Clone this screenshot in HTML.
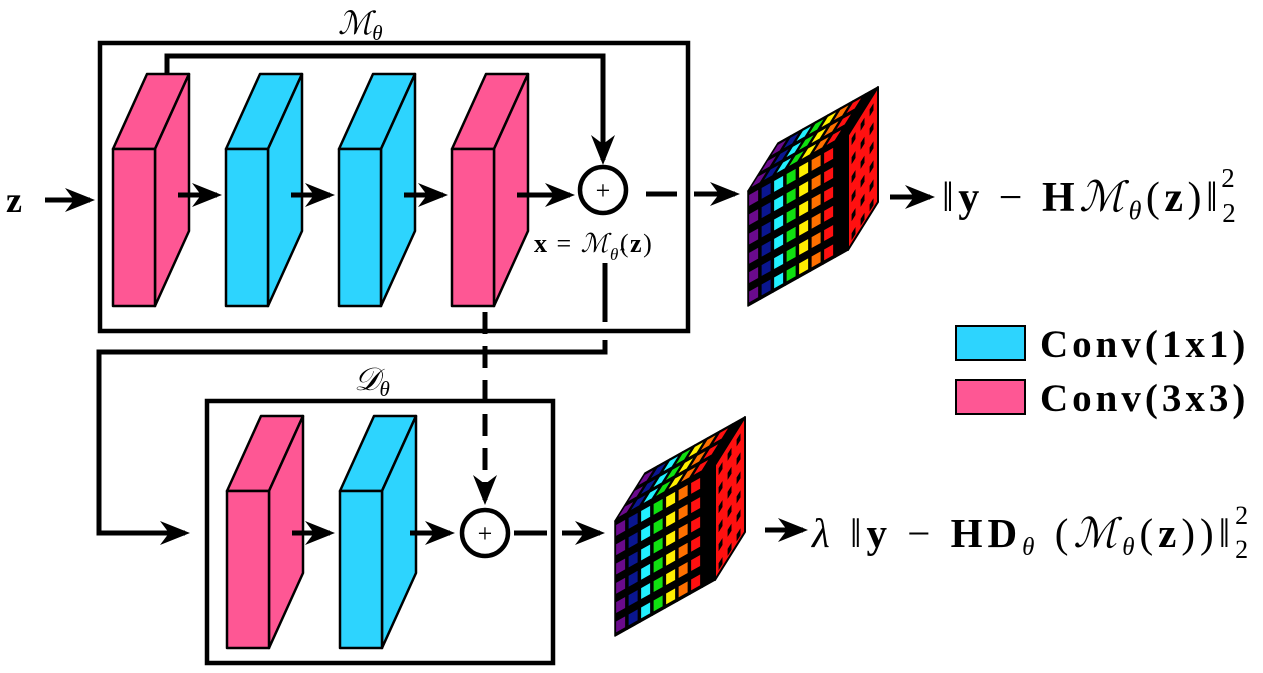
<!DOCTYPE html>
<html><head><meta charset="utf-8"><style>
html,body{margin:0;padding:0;background:#fff;width:1263px;height:673px;overflow:hidden}
svg{display:block}
text{font-family:"Liberation Serif","DejaVu Serif",serif;fill:#000}
</style></head><body>
<svg id="fig" width="1263" height="673" viewBox="0 0 1263 673" xmlns="http://www.w3.org/2000/svg">
<defs>
<marker id="ah" markerWidth="6" markerHeight="6" refX="5" refY="3" orient="auto" markerUnits="strokeWidth"><path d="M0,0.6 L6,3 L0,5.4 L1.8,3 Z" fill="#000"/></marker>
</defs>
<g id="boxes">
<rect x="100" y="43" width="588" height="288" fill="none" stroke="#000" stroke-width="4.5"/>
<rect x="207" y="401" width="346" height="262" fill="none" stroke="#000" stroke-width="4.5"/>
</g>
<text x="338" y="34" font-size="32" font-style="italic">ℳ<tspan font-size="21" dy="6">θ</tspan></text>
<text x="354" y="390" font-size="32" font-style="italic">𝒟<tspan font-size="21" dy="6">θ</tspan></text>
<g id="blocks"></g>
<g id="lines" fill="none" stroke="#000" stroke-width="5">
<polyline points="167,74 167,56 603,56 603,160" marker-end="url(#ah)"/>
<line x1="45" y1="200" x2="90" y2="200" marker-end="url(#ah)"/>
<line x1="178" y1="195" x2="217" y2="195" marker-end="url(#ah)"/>
<line x1="291" y1="195" x2="330" y2="195" marker-end="url(#ah)"/>
<line x1="404" y1="195" x2="443" y2="195" marker-end="url(#ah)"/>
<line x1="517" y1="195" x2="570" y2="195" marker-end="url(#ah)"/>
<line x1="646" y1="194" x2="677" y2="194"/>
<line x1="694" y1="194" x2="735" y2="194" marker-end="url(#ah)"/>
<line x1="890" y1="197" x2="930" y2="197" marker-end="url(#ah)"/>
<polyline points="605,263 605,322" />
<polyline points="605,340 605,352 99,352 99,533 185,533" marker-end="url(#ah)"/>
<line x1="485" y1="312" x2="485" y2="500" stroke-dasharray="22,12" marker-end="url(#ah)"/>
<line x1="292" y1="533" x2="330" y2="533" marker-end="url(#ah)"/>
<line x1="410" y1="533" x2="450" y2="533" marker-end="url(#ah)"/>
<line x1="514" y1="533" x2="547" y2="533"/>
<line x1="562" y1="533" x2="600" y2="533" marker-end="url(#ah)"/>
<line x1="765" y1="530" x2="803" y2="530" marker-end="url(#ah)"/>
</g>
<circle cx="603" cy="190" r="23" fill="#fff" stroke="#000" stroke-width="4.5"/>
<text x="603" y="199" font-size="26" text-anchor="middle">+</text>
<circle cx="485" cy="533" r="23" fill="#fff" stroke="#000" stroke-width="4.5"/>
<text x="485" y="542" font-size="26" text-anchor="middle">+</text>
<text x="534" y="252" font-size="26" letter-spacing="1.5"><tspan font-weight="bold">x</tspan> = <tspan font-style="italic">ℳ</tspan><tspan font-size="17" dy="8" font-style="italic">θ̂</tspan><tspan dy="-8">(</tspan><tspan font-weight="bold">z</tspan>)</text>
<text x="6" y="212" font-size="36" font-weight="bold">z</text>
<text x="942" y="211" font-size="42" letter-spacing="4.5">‖<tspan font-weight="bold">y</tspan> − <tspan font-weight="bold">H</tspan><tspan font-style="italic">ℳ</tspan><tspan font-size="26" dy="8" font-style="italic">θ</tspan><tspan dy="-8">(</tspan><tspan font-weight="bold">z</tspan>)‖<tspan font-size="27" dy="11">2</tspan><tspan font-size="27" dx="-19" dy="-35">2</tspan></text>
<text x="812" y="547" font-size="41" letter-spacing="5">
<tspan font-style="italic">λ</tspan> ‖<tspan font-weight="bold">y</tspan> − <tspan font-weight="bold">HD</tspan><tspan font-size="25" dy="8" font-style="italic">θ</tspan><tspan dy="-8"> (</tspan><tspan font-style="italic">ℳ</tspan><tspan font-size="25" dy="8" font-style="italic">θ</tspan><tspan dy="-8">(</tspan><tspan font-weight="bold">z</tspan>))‖<tspan font-size="26" dy="11">2</tspan><tspan font-size="26" dx="-18" dy="-34">2</tspan></text>
<g>
<rect x="956" y="326" width="69" height="34" fill="#2dd4fe" stroke="#000" stroke-width="2"/>
<text x="1040" y="357" font-size="39" font-weight="bold" letter-spacing="4">Conv(1x1)</text>
<rect x="956" y="380" width="69" height="34" fill="#fe5794" stroke="#000" stroke-width="2"/>
<text x="1040" y="411" font-size="39" font-weight="bold" letter-spacing="4">Conv(3x3)</text>
</g>
<g id="cubes"></g>
</svg>
<script>
const PINK="#fe5794", CYAN="#2dd4fe";
const topBlockX=[113,226,339,452];
const topBlockColors=[PINK,CYAN,CYAN,PINK];
const botBlockX=[227,340];
const botBlockColors=[PINK,CYAN];
const slabColors=["#6a0a8c","#0a1690","#22f0ff","#10e010","#ffee00","#ff7000","#ff1010","#ff1010"];
const NS="http://www.w3.org/2000/svg";
const blocks=document.getElementById('blocks');
function poly(parent,pts,fill,sw){const p=document.createElementNS(NS,'polygon');p.setAttribute('points',pts.map(a=>a.join(',')).join(' '));p.setAttribute('fill',fill);p.setAttribute('stroke','#000');p.setAttribute('stroke-width',sw);p.setAttribute('stroke-linejoin','round');parent.appendChild(p);return p;}
function block(x,y,color,name){
  const g=document.createElementNS(NS,'g');
  
  
  const w=42,h=157,dx=34,dy=-75;
  poly(g,[[x,y],[x+dx,y+dy],[x+w+dx,y+dy],[x+w,y]],color,2.5);
  poly(g,[[x+w,y],[x+w+dx,y+dy],[x+w+dx,y+h+dy],[x+w,y+h]],color,2.5);
  poly(g,[[x,y],[x+w,y],[x+w,y+h],[x,y+h]],color,2.5);
  blocks.appendChild(g);
}
topBlockX.forEach((x,i)=>block(x,149,topBlockColors[i],'conv-block-top-'+(i+1)));
botBlockX.forEach((x,i)=>block(x,491,botBlockColors[i],'conv-block-bottom-'+(i+1)));
const cubes=document.getElementById('cubes');
function P(o,a,ka,d,kd,hh){return [o[0]+a[0]*ka+d[0]*kd, o[1]+a[1]*ka+d[1]*kd-hh];}
function cube(x0,y0,name){
  const g=document.createElementNS(NS,'g');
  
  
  const n=slabColors.length, A=[12.5,-7], D=[30,-48], H=115;
  for(let i=n-1;i>=0;i--){
    const O=[x0+A[0]*i, y0+A[1]*i], c=slabColors[i];
    poly(g,[P(O,A,0,D,0,H),P(O,A,1,D,0,H),P(O,A,1,D,1,H),P(O,A,0,D,1,H)],'#000',1.5);
    poly(g,[P(O,A,0,D,0,0),P(O,A,1,D,0,0),P(O,A,1,D,0,H),P(O,A,0,D,0,H)],'#000',1.5);
    if(i===n-1){
      poly(g,[P(O,A,1,D,0,0),P(O,A,1,D,1,0),P(O,A,1,D,1,H),P(O,A,1,D,0,H)],c,2);
      for(let r=0;r<6;r++)for(let k=0;k<3;k++){
        const hy=H-9-r*19, kd=0.12+k*0.3;
        poly(g,[P(O,A,1,D,kd,hy),P(O,A,1,D,kd+0.13,hy),P(O,A,1,D,kd+0.13,hy-7),P(O,A,1,D,kd,hy-7)],'#000',0);
      }
    }
    if(i<n-1){
      for(let r=0;r<6;r++){
        const hy=H-4-r*19.3;
        poly(g,[P(O,A,0.05,D,0,hy),P(O,A,0.85,D,0,hy),P(O,A,0.85,D,0,hy-12),P(O,A,0.05,D,0,hy-12)],c,1);
      }
      for(let t=0;t<3;t++){
        const kd=0.05+t*0.33;
        poly(g,[P(O,A,0.05,D,kd,H),P(O,A,0.85,D,kd,H),P(O,A,0.85,D,kd+0.25,H),P(O,A,0.05,D,kd+0.25,H)],c,1);
      }
    }
  }
  cubes.appendChild(g);
}
cube(748,306,'output-cube-top');
cube(615,636,'output-cube-bottom');
</script>
</body></html>
